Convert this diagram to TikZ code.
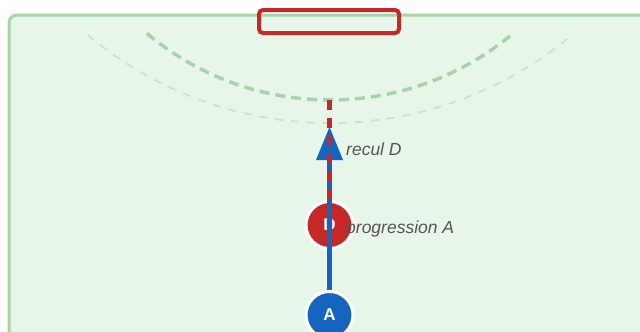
\documentclass[tikz,border=0pt]{standalone}
\usepackage{fontspec}
\setmainfont{Liberation Sans}
\definecolor{fieldbg}{HTML}{E8F5E9}
\definecolor{fieldline}{HTML}{A5D6A7}
\definecolor{fieldlight}{HTML}{C8E6C9}
\definecolor{redp}{HTML}{C62828}
\definecolor{bluep}{HTML}{1565C0}
\definecolor{labelgray}{HTML}{555555}
\begin{document}
\begin{tikzpicture}[x=1pt,y=-1pt,
  field/.style={fill=fieldbg,draw=fieldline,line width=3pt,rounded corners=8pt},
  thickarc/.style={draw=fieldline,line width=3.5pt,dash pattern=on 10pt off 6pt},
  thinarc/.style={draw=fieldlight,line width=1.8pt,dash pattern=on 8pt off 8pt},
  goalbox/.style={draw=redp,line width=4pt,rounded corners=4pt},
  player/.style={circle,draw=white,line width=3pt,minimum size=47pt,inner sep=0pt,
    text=white,font=\fontsize{17}{19}\selectfont\bfseries},
  redpath/.style={draw=redp,line width=4.5pt,dash pattern=on 10pt off 8pt},
  bluepath/.style={draw=bluep,line width=4.5pt},
  lbl/.style={anchor=west,text=labelgray,inner sep=0pt,font=\fontsize{17.5}{20}\selectfont\itshape}]
\useasboundingbox (0,0) rectangle (640,332);
\clip (0,0) rectangle (640,332);
\path[field] (9,15) rectangle (700,400);
\draw[thinarc] (87.8,34.9) arc[start angle=230,end angle=310,radius=376.75pt];
\draw[thickarc] (146.8,33.3) arc[start angle=230,end angle=310,radius=285pt];
\draw[goalbox] (259,10) rectangle (399,33);
\node[player,fill=redp] (D) at (329.5,225) {D};
\coordinate (tri) at (329.5,143);
\coordinate (rtop) at (329.5,96);
\draw[bluepath] (329.5,290) -- (tri);
\fill[bluep] (329.5,127) -- (316,160) -- (343,160) -- cycle;
\draw[redpath] (D.north) -- (rtop);
\node[player,fill=bluep] (A) at (329.5,315) {A};
\node[lbl] (recul) at (346,149) {recul D};
\node[lbl] (prog) at (346,229) {progression A};
\end{tikzpicture}
\end{document}
